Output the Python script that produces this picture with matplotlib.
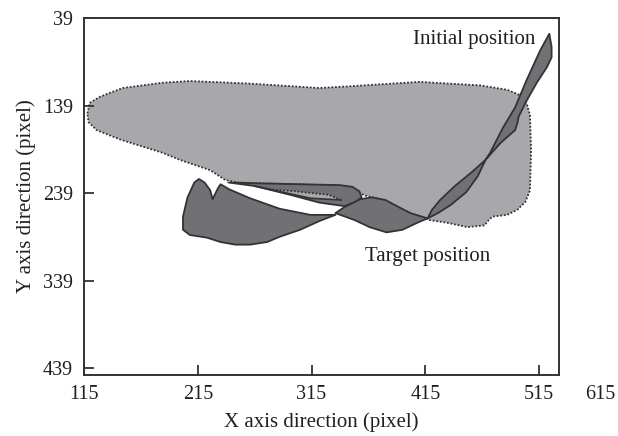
import matplotlib
matplotlib.use("Agg")
import matplotlib.pyplot as plt
from matplotlib.patches import Polygon
import numpy as np

plt.rcParams['font.family'] = ['Liberation Serif', 'DejaVu Serif']

# workspace boundary (light region, dotted outline)
area_x = [118, 120, 129, 149, 184, 208, 261, 322, 349, 410, 463, 487, 498, 504, 507, 508, 507,
          503, 496, 487, 474, 470, 467, 452, 434, 419, 402, 388, 375, 362, 353, 344, 305, 270,
          250, 239, 226, 199, 184, 147, 126, 119]
area_y = [148, 136, 129, 119, 113, 111, 114, 119, 117, 112, 116, 121, 127, 136, 150, 190, 236,
          249, 258, 264, 266, 271, 276, 278, 273, 270, 262, 254, 246, 242, 236, 231, 229, 228,
          227, 224, 213, 201, 193, 178, 167, 158]

# swept trajectory pieces (dark ribbon)
arm_x = [524, 516, 504, 494, 483, 472, 468, 481, 494, 496, 497, 503, 513, 522, 526, 526]
arm_y = [57, 76, 110, 141, 165, 193, 201, 182, 167, 159, 152, 136, 113, 95, 84, 72]

lens_x = [468, 456, 441, 428, 421, 417, 426, 437, 451, 461]
lens_y = [201, 215, 231, 247, 258, 268, 262, 253, 238, 220]

band_x = [417, 402, 393, 380, 368, 358, 344, 336, 353, 366, 381, 395, 408]
band_y = [268, 262, 256, 247, 244, 246, 255, 262, 270, 278, 284, 281, 273]

blob_x = [336, 314, 287, 261, 243, 235, 233, 228, 226, 221, 216, 212, 206, 202, 202, 208, 223,
          235, 248, 261, 276, 287, 305, 322]
blob_y = [264, 264, 257, 245, 235, 229, 233, 246, 236, 227, 223, 227, 244, 266, 281, 287, 290,
          295, 298, 298, 295, 289, 281, 271]

tongue_x = [242, 270, 305, 340, 351, 357, 359, 354, 344, 322, 296, 265]
tongue_y = [227, 228, 229, 230, 232, 237, 244, 249, 254, 250, 241, 231]

# thin light sliver inside the tongue
sliver_top_x = [265, 279, 300, 330, 341]
sliver_top_y = [231, 235, 237, 241, 247]
sliver_bot_x = [341, 314, 286, 268, 265]
sliver_bot_y = [247, 245, 237, 232, 231]

xticks = [115, 215, 315, 415, 515]
yticks = [39, 139, 239, 339, 439]

light = '#a8a8ac'
dark = '#717175'
edge = '#333333'
ink = '#231f20'

fig = plt.figure(figsize=(6.18, 4.36), dpi=100)
ax = fig.add_axes([0.1359, 0.1399, 0.7686, 0.8188])

ax.add_patch(Polygon(np.column_stack([area_x, area_y]), closed=True, facecolor=light,
                     edgecolor=edge, lw=1.3, linestyle=(0, (1, 1)), zorder=1))

for px, py in [(blob_x, blob_y), (tongue_x, tongue_y), (band_x, band_y),
               (lens_x, lens_y), (arm_x, arm_y)]:
    ax.add_patch(Polygon(np.column_stack([px, py]), closed=True, facecolor=dark,
                         edgecolor=edge, lw=1.3, joinstyle='round', zorder=2))

ax.add_patch(Polygon(np.column_stack([sliver_top_x + sliver_bot_x, sliver_top_y + sliver_bot_y]),
                     closed=True, facecolor=light, edgecolor='none', zorder=3))
ax.plot(sliver_top_x, sliver_top_y, color=edge, lw=1.3, linestyle=(0, (1, 1)), zorder=4)
ax.plot(sliver_bot_x, sliver_bot_y, color=edge, lw=1.2, zorder=4)

ax.text(512, 63, 'Initial position', ha='right', va='center', fontsize=15, color=ink)
ax.text(417, 312, 'Target position', ha='center', va='center', fontsize=15, color=ink)

ax.set_xlim(115, 532.5)
ax.set_ylim(447, 39)
ax.set_xticks(xticks)
ax.set_yticks(yticks)
ax.tick_params(direction='in', length=7, width=1.3, color=edge, labelsize=14.5,
               labelcolor=ink, top=False, right=False)
ax.tick_params(axis='y', pad=8)
ax.tick_params(axis='x', pad=7)
# last x label sits past the frame
ax.annotate('615', xy=(569, 0), xycoords=ax.get_xaxis_transform(), xytext=(0, -7),
            textcoords='offset points', ha='center', va='top', fontsize=14.5,
            color=ink, annotation_clip=False)
for s in ax.spines.values():
    s.set_linewidth(1.4)
    s.set_color(edge)

ax.set_xlabel('X axis direction (pixel)', fontsize=15, color=ink, labelpad=6)
ax.set_ylabel('Y axis direction (pixel)', fontsize=15, color=ink, labelpad=5)

fig.savefig('out.png', dpi=100)
